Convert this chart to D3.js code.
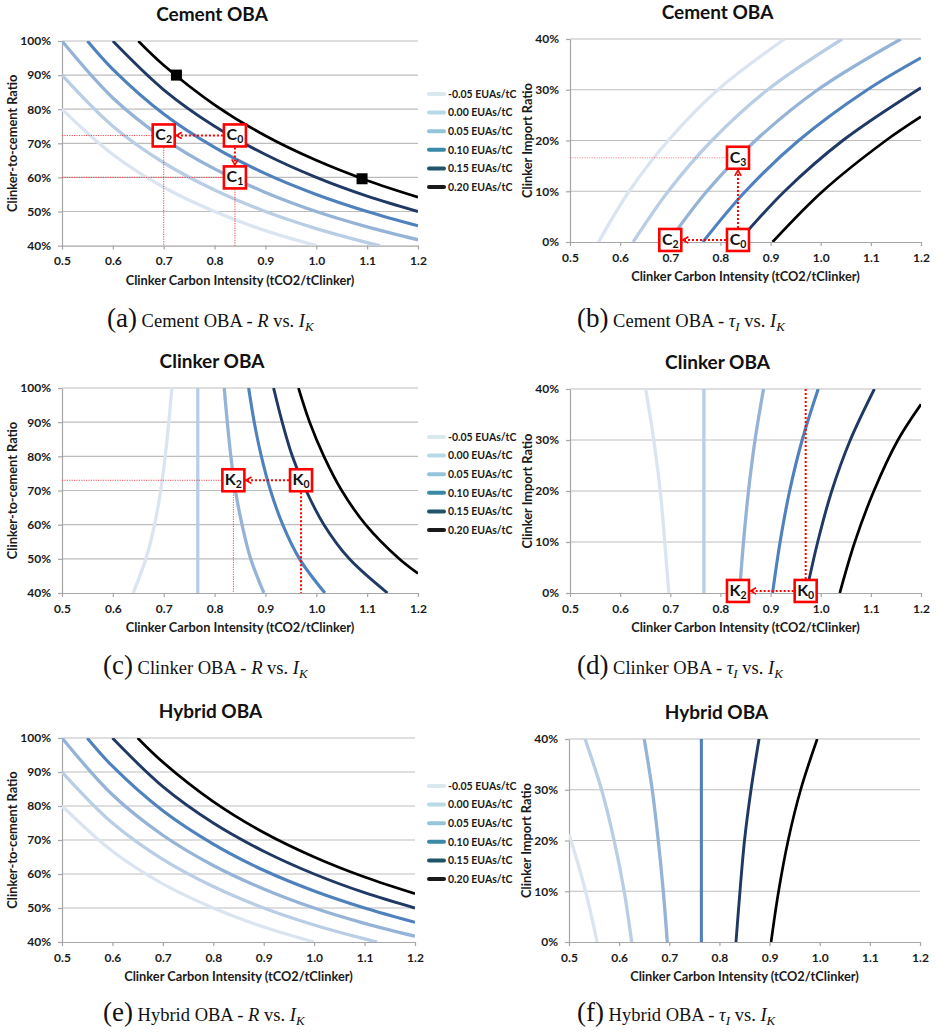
<!DOCTYPE html>
<html>
<head>
<meta charset="utf-8">
<script src="https://cdn.jsdelivr.net/npm/d3@7"></script>
<style>
  body { margin: 0; background: #fff; }
  svg text { font-family: Lato, "Open Sans", sans-serif; }
  .panel-title { font-size: 19px; font-weight: 700; fill: #111; }
  .axis-title { font-size: 12.8px; font-weight: 700; fill: #1a1a1a; }
  .tick-label { font-size: 12px; font-weight: 700; fill: #1a1a1a; }
  .legend-label { font-size: 10.5px; font-weight: 700; fill: #1a1a1a; }
  .box-label { font-size: 16px; font-weight: 700; fill: #111; }
  .caption { font-family: "Liberation Serif", "DejaVu Serif", serif; fill: #111; }
</style>
</head>
<body>
<svg id="fig" width="936" height="1032"></svg>
<script>
const intensityTicks = [0.5, 0.6, 0.7, 0.8, 0.9, 1.0, 1.1, 1.2];
const ratioTicks = [40, 50, 60, 70, 80, 90, 100];
const importTicks = [0, 10, 20, 30, 40];
const allowanceLabels = ['-0.05 EUAs/tC', '0.00 EUAs/tC', '0.05 EUAs/tC', '0.10 EUAs/tC', '0.15 EUAs/tC', '0.20 EUAs/tC'];
const curveColors = ['#dbe5f1', '#b9cde5', '#95b3d7', '#4f81bd', '#1f3864', '#000000'];
const curveWidths = [3.3, 3.3, 3.3, 3.1, 2.9, 2.7];
const legendColors = ['#dae8f0', '#b7dae6', '#93c6da', '#3a89a7', '#1f5566', '#1a1a1a'];

// [clinker intensity, clinker-to-cement ratio %]
const cementRatio = [
  [[0.5, 80], [0.6, 66.7], [0.7, 57.1], [0.8, 50], [0.9, 44.4], [1.0, 40]],
  [[0.5, 90], [0.6, 75], [0.7, 64.3], [0.8, 56.3], [0.9, 50], [1.0, 45], [1.1, 40.9], [1.125, 40]],
  [[0.5, 100], [0.6, 83.3], [0.7, 71.4], [0.8, 62.5], [0.9, 55.6], [1.0, 50], [1.1, 45.5], [1.2, 41.7]],
  [[0.55, 100], [0.6, 91.7], [0.7, 78.6], [0.8, 68.8], [0.9, 61.1], [1.0, 55], [1.1, 50], [1.2, 45.8]],
  [[0.6, 100], [0.7, 85.7], [0.8, 75], [0.9, 66.7], [1.0, 60], [1.1, 54.5], [1.2, 50]],
  [[0.65, 100], [0.7, 92.9], [0.8, 81.3], [0.9, 72.2], [1.0, 65], [1.1, 59.1], [1.2, 54.2]]
];
// [clinker intensity, clinker import ratio %]
const cementImport = [
  [[0.557, 0], [0.618, 10], [0.696, 20], [0.795, 30], [0.928, 40]],
  [[0.626, 0], [0.696, 10], [0.783, 20], [0.894, 30], [1.043, 40]],
  [[0.696, 0], [0.773, 10], [0.87, 20], [0.994, 30], [1.16, 40]],
  [[0.765, 0], [0.85, 10], [0.956, 20], [1.093, 30], [1.2, 36.3]],
  [[0.835, 0], [0.928, 10], [1.044, 20], [1.2, 30.4]],
  [[0.904, 0], [1.004, 10], [1.13, 20], [1.2, 24.7]]
];
const clinkerRatio = [
  [[0.64, 40], [0.665, 50], [0.682, 60], [0.694, 70], [0.703, 80], [0.71, 90], [0.716, 100]],
  [[0.767, 40], [0.767, 100]],
  [[0.897, 40], [0.871, 50], [0.854, 60], [0.841, 70], [0.832, 80], [0.825, 90], [0.819, 100]],
  [[1.017, 40], [0.967, 50], [0.934, 60], [0.91, 70], [0.892, 80], [0.878, 90], [0.867, 100]],
  [[1.14, 40], [1.065, 50], [1.015, 60], [0.98, 70], [0.953, 80], [0.933, 90], [0.916, 100]],
  [[1.2, 45.7], [1.163, 50], [1.097, 60], [1.05, 70], [1.015, 80], [0.987, 90], [0.965, 100]]
];
const clinkerImport = [
  [[0.697, 0], [0.689, 10], [0.68, 20], [0.667, 30], [0.651, 40]],
  [[0.767, 0], [0.767, 40]],
  [[0.838, 0], [0.846, 10], [0.856, 20], [0.869, 30], [0.886, 40]],
  [[0.904, 0], [0.919, 10], [0.938, 20], [0.963, 30], [0.995, 40]],
  [[0.971, 0], [0.994, 10], [1.022, 20], [1.059, 30], [1.107, 40]],
  [[1.038, 0], [1.068, 10], [1.106, 20], [1.154, 30], [1.2, 37]]
];
// panel (e) reads the same as (a)
const hybridRatio = cementRatio;
const hybridImport = [
  [[0.556, 0], [0.533, 10], [0.504, 20], [0.5, 21.2]],
  [[0.625, 0], [0.61, 10], [0.59, 20], [0.565, 30], [0.532, 40]],
  [[0.696, 0], [0.688, 10], [0.678, 20], [0.666, 30], [0.65, 40]],
  [[0.764, 0], [0.764, 40]],
  [[0.833, 0], [0.841, 10], [0.85, 20], [0.863, 30], [0.879, 40]],
  [[0.903, 0], [0.918, 10], [0.937, 20], [0.962, 30], [0.995, 40]]
];

// annotations
const cementRatioMarks = [[0.725, 90], [1.09, 59.6]];
const cementRatioPoints = [{n: 'C', s: '0', x: 0.84, y: 72.3}, {n: 'C', s: '2', x: 0.70, y: 72.3}, {n: 'C', s: '1', x: 0.84, y: 60}];
const cementImportPoints = [{n: 'C', s: '0', x: 0.835, y: 0.4}, {n: 'C', s: '2', x: 0.70, y: 0.4}, {n: 'C', s: '3', x: 0.835, y: 16.6}];
const clinkerRatioPoints = [{n: 'K', s: '0', x: 0.97, y: 73}, {n: 'K', s: '2', x: 0.837, y: 73}];
const clinkerImportPoints = [{n: 'K', s: '0', x: 0.97, y: 0.4}, {n: 'K', s: '2', x: 0.835, y: 0.4}];

const captionLetters = ['(a)', '(b)', '(c)', '(d)', '(e)', '(f)'];
const schemeNames = ['Cement OBA', 'Cement OBA', 'Clinker OBA', 'Clinker OBA', 'Hybrid OBA', 'Hybrid OBA'];

const svg = d3.select('#fig');
const defs = svg.append('defs');
defs.append('marker')
    .attr('id', 'arrow')
    .attr('viewBox', '0 0 10 10')
    .attr('refX', 9).attr('refY', 5)
    .attr('markerWidth', 8).attr('markerHeight', 8)
    .attr('markerUnits', 'userSpaceOnUse')
    .attr('orient', 'auto')
  .append('path')
    .attr('d', 'M2,1 L9,5 L2,9')
    .attr('fill', 'none')
    .attr('stroke', '#ff0000')
    .attr('stroke-width', 2);

class CurvePanel {
  constructor(_config, _data) {
    this.config = {
      id: _config.id,
      left: _config.left,
      top: _config.top,
      width: _config.width,
      height: _config.height,
      title: _config.title,
      yTitle: _config.yTitle,
      yTicks: _config.yTicks,
      yTitleX: _config.yTitleX,
      legendTop: _config.legendTop,
      caption: _config.caption
    };
    this.data = _data;
    this.initVis();
  }

  initVis() {
    const vis = this;
    const c = vis.config;

    vis.xScale = d3.scaleLinear().domain([0.5, 1.2]).range([0, c.width]);
    vis.yScale = d3.scaleLinear().domain(d3.extent(c.yTicks)).range([c.height, 0]);

    vis.chart = svg.append('g')
        .attr('transform', `translate(${c.left},${c.top})`);

    defs.append('clipPath').attr('id', `clip-${c.id}`)
      .append('rect').attr('width', c.width).attr('height', c.height);

    // grid
    vis.chart.append('g')
      .selectAll('line')
      .data(c.yTicks.slice(1))
      .join('line')
        .attr('x1', 0).attr('x2', c.width)
        .attr('y1', d => vis.yScale(d)).attr('y2', d => vis.yScale(d))
        .attr('stroke', '#bdbdbd').attr('stroke-width', 1.2);

    const xAxis = vis.chart.append('g')
        .attr('transform', `translate(0,${c.height})`)
        .call(d3.axisBottom(vis.xScale).tickValues(intensityTicks).tickSize(4).tickSizeOuter(0)
          .tickPadding(7).tickFormat(d3.format('.1f')));
    const yAxis = vis.chart.append('g')
        .call(d3.axisLeft(vis.yScale).tickValues(c.yTicks).tickSize(4).tickSizeOuter(0)
          .tickPadding(7).tickFormat(d => d + '%'));
    [xAxis, yAxis].forEach(ax => {
      ax.attr('font-family', null).attr('font-size', null);
      ax.selectAll('path, line').attr('stroke', '#a6a6a6').attr('stroke-width', 1.2);
      ax.selectAll('text').attr('class', 'tick-label').attr('fill', null);
    });

    vis.chart.append('text')
        .attr('class', 'axis-title')
        .attr('text-anchor', 'middle')
        .attr('x', c.width / 2).attr('y', c.height + 39)
        .text('Clinker Carbon Intensity (tCO2/tClinker)');

    vis.chart.append('text')
        .attr('class', 'axis-title')
        .attr('text-anchor', 'middle')
        .attr('transform', `translate(${c.yTitleX},${c.height / 2}) rotate(-90)`)
        .text(c.yTitle);

    vis.chart.append('text')
        .attr('class', 'panel-title')
        .attr('text-anchor', 'middle')
        .attr('x', c.width / 2 - 28)
        .attr('y', -20)
        .text(c.title);

    const line = d3.line()
        .x(d => vis.xScale(d[0]))
        .y(d => vis.yScale(d[1]))
        .curve(d3.curveCatmullRom);

    vis.chart.append('g')
        .attr('clip-path', `url(#clip-${c.id})`)
      .selectAll('path')
      .data(vis.data.curves)
      .join('path')
        .attr('d', line)
        .attr('fill', 'none')
        .attr('stroke', (d, i) => curveColors[i])
        .attr('stroke-width', (d, i) => curveWidths[i]);

    if (c.legendTop != null) vis.renderLegend();
    vis.renderAnnotations();
    vis.renderCaption();
  }

  renderLegend() {
    const vis = this;
    const c = vis.config;
    const legend = svg.append('g')
        .attr('transform', `translate(428,${c.legendTop})`);
    const rows = legend.selectAll('g')
      .data(allowanceLabels)
      .join('g')
        .attr('transform', (d, i) => `translate(0,${i * 18.6})`);
    rows.append('line')
        .attr('x1', 1).attr('x2', 16)
        .attr('stroke', (d, i) => legendColors[i])
        .attr('stroke-width', 4)
        .attr('stroke-linecap', 'round');
    rows.append('text')
        .attr('class', 'legend-label')
        .attr('x', 20).attr('dy', '0.36em')
        .text(d => d);
  }

  renderAnnotations() {
    const vis = this;
    const d = vis.data;
    const px = p => [vis.xScale(p.x), vis.yScale(p.y)];
    const g = vis.chart.append('g');

    (d.guides || []).forEach(gd => {
      const thick = gd.style === 'thick';
      g.append('line')
          .attr('x1', vis.xScale(gd.x1)).attr('y1', vis.yScale(gd.y1))
          .attr('x2', vis.xScale(gd.x2)).attr('y2', vis.yScale(gd.y2))
          .attr('stroke', thick ? '#ff0000' : '#e8383d')
          .attr('stroke-width', thick ? 2 : 0.9)
          .attr('stroke-dasharray', thick ? '2,2' : '1.2,1.2')
          .attr('opacity', gd.faint ? 0.6 : 1);
    });

    (d.arrows || []).forEach(([from, to]) => {
      const a = px(d.points[from]);
      const b = px(d.points[to]);
      const len = Math.hypot(b[0] - a[0], b[1] - a[1]);
      const ux = (b[0] - a[0]) / len, uy = (b[1] - a[1]) / len;
      g.append('line')
          .attr('x1', a[0] + ux * 12).attr('y1', a[1] + uy * 12)
          .attr('x2', b[0] - ux * 12.5).attr('y2', b[1] - uy * 12.5)
          .attr('stroke', '#ff0000')
          .attr('stroke-width', 2)
          .attr('stroke-dasharray', '2,2')
          .attr('marker-end', 'url(#arrow)');
    });

    g.selectAll('rect.mark')
      .data(d.marks || [])
      .join('rect')
        .attr('class', 'mark')
        .attr('x', m => vis.xScale(m[0]) - 5.5)
        .attr('y', m => vis.yScale(m[1]) - 5.5)
        .attr('width', 11).attr('height', 11)
        .attr('fill', '#000');

    const boxes = g.selectAll('g.box')
      .data(d.points || [])
      .join('g')
        .attr('class', 'box')
        .attr('transform', p => `translate(${px(p)[0]},${px(p)[1]})`);
    boxes.append('rect')
        .attr('x', -11).attr('y', -11)
        .attr('width', 22).attr('height', 22)
        .attr('fill', '#fff')
        .attr('stroke', '#ff0000')
        .attr('stroke-width', 2.6);
    const label = boxes.append('text')
        .attr('class', 'box-label')
        .attr('text-anchor', 'middle')
        .attr('x', 0).attr('y', 5);
    label.append('tspan').text(p => p.n);
    label.append('tspan').attr('dy', 3).style('font-size', '10.5px').text(p => p.s);
  }

  renderCaption() {
    const c = this.config;
    const cap = c.caption;
    const t = svg.append('text')
        .attr('class', 'caption')
        .attr('x', cap.x).attr('y', cap.y);
    t.append('tspan').style('font-size', '27px').text(captionLetters[cap.index]);
    t.append('tspan').style('font-size', '18.5px').text(` ${schemeNames[cap.index]} - `);
    let vsShift = 0;
    if (cap.ratio) {
      t.append('tspan').style('font-size', '18.5px').style('font-style', 'italic').text('R');
    } else {
      t.append('tspan').style('font-size', '18.5px').style('font-style', 'italic').text('τ');
      t.append('tspan').style('font-size', '13px').style('font-style', 'italic').attr('dy', 3.5).text('I');
      vsShift = -3.5;
    }
    t.append('tspan').style('font-size', '18.5px').attr('dy', vsShift).text(' vs. ');
    t.append('tspan').style('font-size', '18.5px').style('font-style', 'italic').text('I');
    t.append('tspan').style('font-size', '13px').style('font-style', 'italic').attr('dy', 3.5).text('K');
  }
}

const leftPanel = {left: 62, width: 356, yTitle: 'Clinker-to-cement Ratio', yTicks: ratioTicks, yTitleX: -45};
const rightPanel = {left: 570, width: 351, yTitle: 'Clinker Import Ratio', yTicks: importTicks, yTitleX: -38};

new CurvePanel({...leftPanel, id: 'a', top: 41, height: 204.6, title: 'Cement OBA', legendTop: 94,
    caption: {index: 0, x: 107, y: 327, ratio: true}},
  {curves: cementRatio, marks: cementRatioMarks, points: cementRatioPoints,
    guides: [{x1: 0.5, y1: 72.3, x2: 0.70, y2: 72.3}, {x1: 0.5, y1: 60, x2: 0.84, y2: 60},
             {x1: 0.70, y1: 72.3, x2: 0.70, y2: 40}, {x1: 0.84, y1: 60, x2: 0.84, y2: 40}],
    arrows: [[0, 1], [0, 2]]});

new CurvePanel({...rightPanel, id: 'b', top: 39, height: 203, title: 'Cement OBA',
    caption: {index: 1, x: 577, y: 327, ratio: false}},
  {curves: cementImport, points: cementImportPoints,
    guides: [{x1: 0.5, y1: 16.6, x2: 0.835, y2: 16.6, faint: true}],
    arrows: [[0, 1], [0, 2]]});

new CurvePanel({...leftPanel, id: 'c', top: 388, height: 205, title: 'Clinker OBA', legendTop: 437,
    caption: {index: 2, x: 103, y: 674, ratio: true}},
  {curves: clinkerRatio, points: clinkerRatioPoints,
    guides: [{x1: 0.5, y1: 73, x2: 0.837, y2: 73}, {x1: 0.837, y1: 73, x2: 0.837, y2: 40},
             {x1: 0.97, y1: 73, x2: 0.97, y2: 40, style: 'thick'}],
    arrows: [[0, 1]]});

new CurvePanel({...rightPanel, id: 'd', top: 389, height: 204, title: 'Clinker OBA',
    caption: {index: 3, x: 577, y: 674, ratio: false}},
  {curves: clinkerImport, points: clinkerImportPoints,
    guides: [{x1: 0.97, y1: 0.4, x2: 0.97, y2: 40, style: 'thick'}],
    arrows: [[0, 1]]});

new CurvePanel({...leftPanel, id: 'e', top: 738, height: 204, width: 353, title: 'Hybrid OBA', legendTop: 786,
    caption: {index: 4, x: 103, y: 1021, ratio: true}},
  {curves: hybridRatio});

new CurvePanel({...rightPanel, id: 'f', top: 739, height: 203, left: 569, title: 'Hybrid OBA',
    caption: {index: 5, x: 577, y: 1021, ratio: false}},
  {curves: hybridImport});
</script>
</body>
</html>
